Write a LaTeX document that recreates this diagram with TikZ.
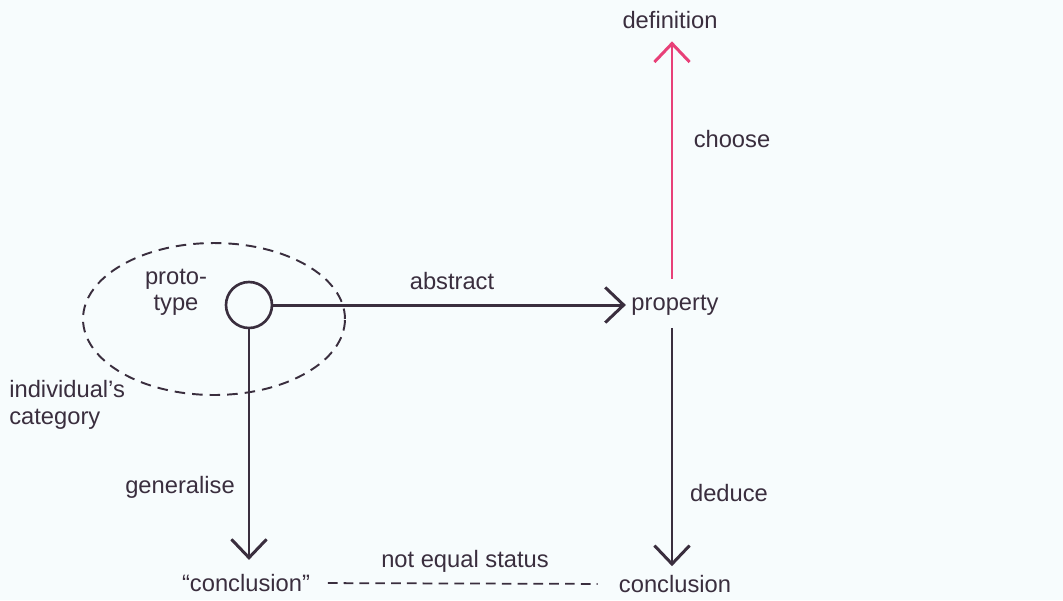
\documentclass[tikz,border=0pt]{standalone}
\usepackage{fontspec}
\setmainfont{Liberation Sans}
\usetikzlibrary{arrows.meta,shapes.geometric}
\definecolor{ink}{RGB}{58,46,62}
\definecolor{pinkish}{RGB}{232,64,120}
\definecolor{paper}{RGB}{247,252,253}
\begin{document}
\begin{tikzpicture}[x=0.02cm,y=-0.02cm,
  lbl/.style={font=\fontsize{13.5}{16}\selectfont, text=ink, inner sep=0pt},
  arr/.style={draw=ink, line width=1.7pt, -{Straight Barb[length=10.5pt,width=20pt,line width=1.7pt]}},
  pinkarr/.style={arr, draw=pinkish}]
\fill[paper] (0,0) rectangle (1063,600);
\useasboundingbox (0,0) rectangle (1063,600);
% nodes
\node[lbl] (definition) at (670,20) {definition};
\node[lbl] (property) at (675,305) {property};
\node[lbl] (conclusion) at (675,584) {conclusion};
\node[lbl] (qconclusion) at (246,583) {``conclusion''};
\node[draw=ink, line width=1.5pt, circle, minimum size=0.92cm, inner sep=0pt] (proto) at (249,305) {};
\node[lbl, align=center] (protolbl) at (176,292) {proto-\\[-1pt]type};
\node[lbl, align=left, anchor=west] (indiv) at (9,405) {individual's\\[-1pt]category};
\node[draw=ink, line width=1.1pt, dash pattern=on 6pt off 4pt, ellipse, minimum width=5.24cm, minimum height=3.04cm, inner sep=0pt] (cat) at (214,319) {};
% connectors
\draw[arr, shorten >=3pt] (proto.east) -- (property.west);
\draw[pinkarr, shorten <=9pt, shorten >=7pt] (property.north -| 672,0) -- (definition.south -| 672,0);
\draw[arr, shorten <=7pt, shorten >=5pt] (property.south -| 672,0) -- (conclusion.north -| 672,0);
\draw[arr, shorten >=8pt] (proto.south) -- (proto.south |- qconclusion.north);
\draw[ink, line width=1pt, dash pattern=on 5.5pt off 3.5pt, shorten <=10pt, shorten >=12pt] (qconclusion.east) -- (conclusion.west);
% labels
\node[lbl] (abstract) at (452,281) {abstract};
\node[lbl] (choose) at (732,139) {choose};
\node[lbl] (deduce) at (729,493) {deduce};
\node[lbl] (generalise) at (180,487) {generalise};
\node[lbl] (noteq) at (465,561) {not equal status};
\end{tikzpicture}
\end{document}
